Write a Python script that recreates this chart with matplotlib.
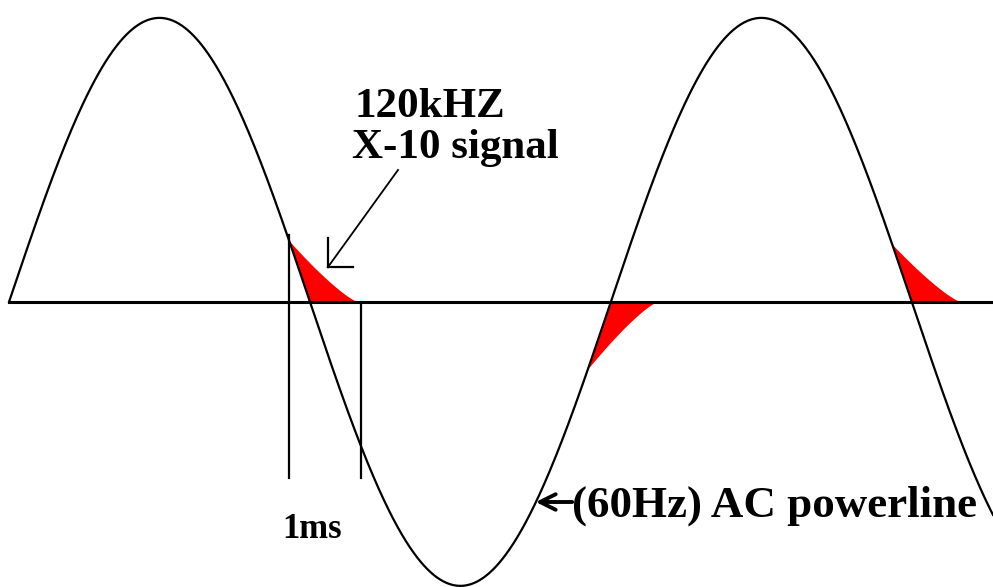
import numpy as np
import matplotlib
matplotlib.use("Agg")
import matplotlib.pyplot as plt

# powerline and X-10 burst parameters (time in ms)
line_freq_hz = 60
burst_start_ms = [7.76, 16.04, 24.46]
burst_len_ms = 1.9
marker_ms = [7.76, 9.75]
marker_bottom = -0.62

label_top = "120kHZ"
label_sig = "X-10 signal"
label_ac = "(60Hz) AC powerline"
label_ms = "1ms"

period = 1000.0 / line_freq_hz
t_min, t_max = -0.25, 27.25

fig = plt.figure(figsize=(9.93, 5.87), dpi=100)
ax = fig.add_axes([0, 0, 1, 1])
ax.set_xlim(t_min, t_max)
ax.set_ylim(-1.004, 1.063)
ax.axis("off")

t = np.linspace(0, t_max, 2000)
wave = np.sin(2 * np.pi * t / period)
ax.plot(t, wave, color="black", lw=1.6, zorder=3)
ax.plot([0, t_max], [0, 0], color="black", lw=2.2, zorder=3)

# red bursts riding at the zero crossings
for t0 in burst_start_ms:
    tb = np.linspace(t0, t0 + burst_len_ms, 200)
    sb = np.sin(2 * np.pi * tb / period)
    sign = np.sign(np.sin(2 * np.pi * t0 / period))
    h0 = abs(np.sin(2 * np.pi * t0 / period))
    s = (tb - t0) / burst_len_ms
    env = sign * h0 * (1 - s) ** 1.25
    inner = np.where(sign * sb > 0, sb, 0)
    ax.fill_between(tb, inner, env, color="#ff0000", lw=0, zorder=2)

# 1 ms marker lines
top0 = np.sin(2 * np.pi * marker_ms[0] / period) + 0.02
ax.plot([marker_ms[0], marker_ms[0]], [top0, marker_bottom], color="black", lw=1.6)
ax.plot([marker_ms[1], marker_ms[1]], [0, marker_bottom], color="black", lw=1.6)

# overlay in pixel units for the labels
ann = fig.add_axes([0, 0, 1, 1])
ann.set_xlim(0, 993)
ann.set_ylim(587, 0)
ann.axis("off")
ann.patch.set_alpha(0)

font = dict(family=["Liberation Serif", "DejaVu Serif"], weight="bold", color="black")
ann.text(355, 117, label_top, fontsize=31, va="baseline", ha="left", **font)
ann.text(352, 158, label_sig, fontsize=31, va="baseline", ha="left", **font)
ann.text(572, 517, label_ac, fontsize=32.4, va="baseline", ha="left", **font)
ann.text(282, 538, label_ms, fontsize=25, va="baseline", ha="left", **font)

# arrow pointing at the burst
ann.plot([398, 328], [170, 267], color="black", lw=1.3)
ann.plot([328, 328], [238, 267], color="black", lw=1.6)
ann.plot([328, 353], [267, 267], color="black", lw=1.6)

# arrow pointing at the powerline
ann.annotate("", xy=(533, 502), xytext=(575, 502),
             arrowprops=dict(arrowstyle="->", lw=2.8, color="black",
                             mutation_scale=28))

fig.savefig("out.png", dpi=100)
